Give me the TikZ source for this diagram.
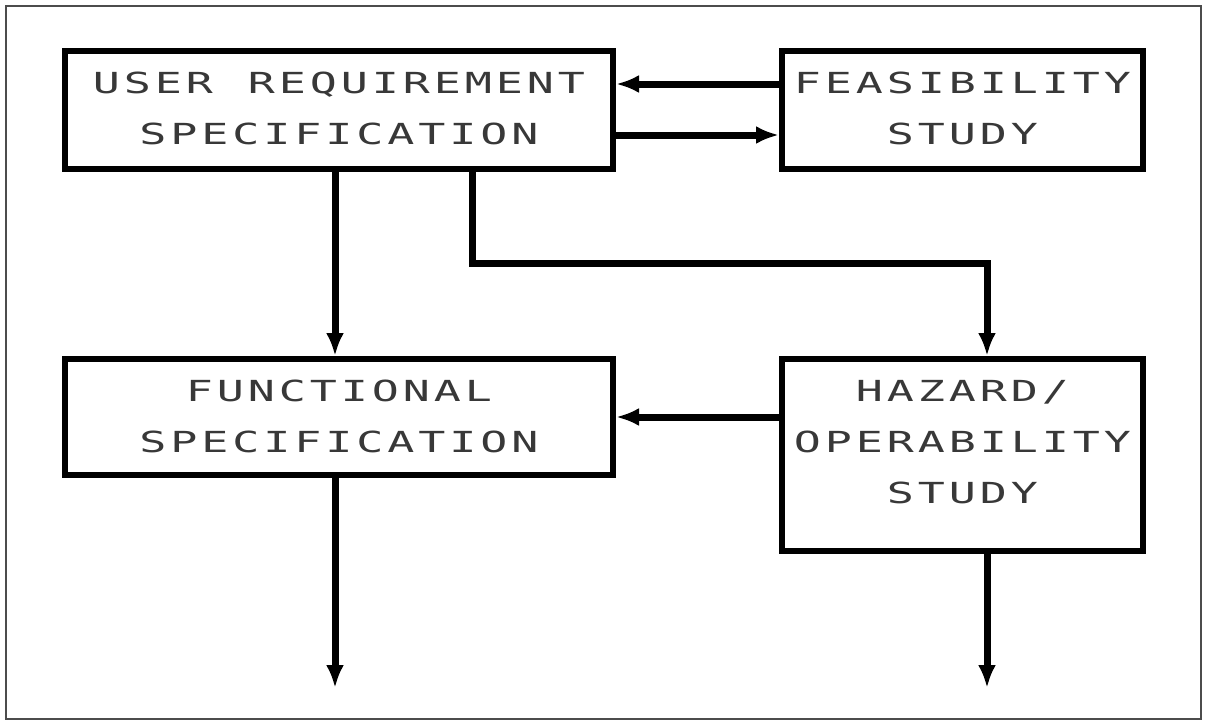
\documentclass[tikz,border=0pt]{standalone}
\usepackage{fontspec}
\usetikzlibrary{arrows.meta}
\newfontfamily\plotfont[FakeStretch=1.55]{DejaVu Sans Mono}
\newcommand\lsp[1]{\lspA#1\relax}
\def\lspA#1{\ifx#1\relax\else\makebox[31pt]{#1}\expandafter\lspA\fi}
\begin{document}
\begin{tikzpicture}[x=1pt,y=-1pt,
  box/.style={draw=black, line width=6pt, rectangle, inner sep=0pt},
  lbl/.style={font=\plotfont\fontsize{29}{51}\selectfont, text=black!78, align=center, inner sep=0pt},
  arr/.style={line width=7pt, -{Latex[length=23pt,width=18pt]}}]
\useasboundingbox (0,0) rectangle (1205,723);
\fill[white] (0,0) rectangle (1205,723);
\draw[black!70, line width=1.5pt] (6,6) rectangle (1201,719);
% boxes
\node[box, minimum width=548pt, minimum height=118pt] (urs) at (339,110) {};
\node[box, minimum width=361pt, minimum height=118pt] (feas) at (962.5,110) {};
\node[box, minimum width=548pt, minimum height=116pt] (func) at (339,417) {};
\node[box, minimum width=361pt, minimum height=192pt] (haz) at (962.5,455) {};
% texts
\node[lbl] (ursT) at (339,108) {\lsp{USER~REQUIREMENT}\\\lsp{SPECIFICATION}};
\node[lbl] (feasT) at (962.5,108) {\lsp{FEASIBILITY}\\\lsp{STUDY}};
\node[lbl] (funcT) at (339,416) {\lsp{FUNCTIONAL}\\\lsp{SPECIFICATION}};
\node[lbl] (hazT) at (962.5,442) {\lsp{HAZARD/}\\\lsp{OPERABILITY}\\\lsp{STUDY}};
% connectors
\coordinate (e1) at (472,263);
\coordinate (e2) at (987,263);
\coordinate (out1) at (335,688);
\coordinate (out2) at (987,688);
\draw[arr] (feas.west |- 0,84) -- (urs.east |- 0,84);
\draw[arr] (urs.east |- 0,135) -- (feas.west |- 0,135);
\draw[arr] (urs.south -| 335,0) -- (func.north -| 335,0);
\draw[arr] (urs.south -| e1) -- (e1) -- (e2) -- (haz.north -| e2);
\draw[arr] (haz.west |- 0,417) -- (func.east |- 0,417);
\draw[arr] (func.south -| out1) -- (out1);
\draw[arr] (haz.south -| out2) -- (out2);
\end{tikzpicture}
\end{document}
